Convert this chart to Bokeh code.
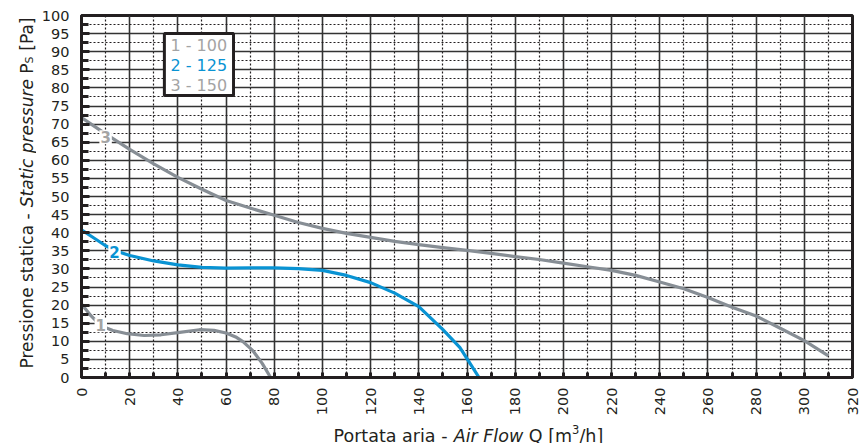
import math
from bokeh.plotting import figure
from bokeh.layouts import row, column
from bokeh.models import Range1d, FixedTicker, Label, BoxAnnotation
from bokeh.core.properties import value
from bokeh.embed import file_html
from bokeh.resources import INLINE

# ---- data ----
q1 = [0, 4, 8, 13, 19, 26, 33, 40, 49, 55, 60, 64, 67, 71, 75, 78.5]
p1 = [20.3, 17, 14.3, 13, 12.1, 11.6, 11.8, 12.4, 13.2, 13, 12.3, 11.2, 9.9, 7.5, 3.9, 0]

q2 = [0, 5, 10, 15, 20, 30, 40, 50, 60, 70, 80, 90, 100, 110, 120, 130, 140, 150, 157, 160, 165]
p2 = [40.8, 38.6, 36.4, 34.8, 33.7, 32.2, 31.1, 30.4, 30.2, 30.3, 30.3, 30.1, 29.6, 28.2, 26.2, 23.3, 19.6, 13.2, 8.3, 5.2, 0]

q3 = [0, 10, 20, 30, 40, 50, 60, 70, 80, 90, 100, 110, 120, 130, 140, 150, 160, 170, 180, 190,
      200, 210, 220, 230, 240, 250, 260, 270, 280, 290, 300, 310]
p3 = [71.8, 67.3, 63, 59, 55.3, 52, 48.9, 46.8, 44.8, 42.8, 41.2, 39.8, 38.7, 37.6, 36.7, 35.9,
      35.1, 34.3, 33.4, 32.6, 31.6, 30.6, 29.6, 28.2, 26.4, 24.5, 22.1, 19.4, 17, 13.6, 10.2, 6]

curve_ids = ["1", "2", "3"]
legend_texts = ["1 - 100", "2 - 125", "3 - 150"]

x_ticks = list(range(0, 321, 20))
x_minor = list(range(10, 320, 20))
y_ticks = list(range(0, 101, 5))
y_minor = [v + 2.5 for v in range(0, 100, 5)]

GRAY = "#878e95"
BLUE = "#0993d3"
LGRAY = "#a4a4a4"
INK = "#231f20"
FONT = "DejaVu Sans"

YW = 36          # width of the y-title strip
PW = 824         # main figure width
PH = 418         # main figure height
XH = 25          # height of the x-title strip
TW = YW + PW     # total width
FT, FB = 15, 377  # frame top / bottom (page px)

p = figure(width=PW, height=PH,
           min_border_left=81 - YW, min_border_right=PW - (81 - YW) - 771,
           min_border_top=FT, min_border_bottom=PH - FB,
           x_range=Range1d(0, 320), y_range=Range1d(0, 100),
           output_backend="svg", toolbar_location=None,
           background_fill_color="white", border_fill_color="white")

xtk = FixedTicker(ticks=x_ticks, minor_ticks=x_minor)
ytk = FixedTicker(ticks=y_ticks, minor_ticks=y_minor)
p.xaxis.ticker = xtk
p.yaxis.ticker = ytk
p.xgrid.ticker = xtk
p.ygrid.ticker = ytk

for g in (p.xgrid, p.ygrid):
    g.grid_line_color = "#333333"
    g.grid_line_width = 1.6
    g.minor_grid_line_color = INK
    g.minor_grid_line_width = 1.2
    g.minor_grid_line_dash = "2 2"

for ax in (p.xaxis, p.yaxis):
    ax.axis_line_color = INK
    ax.axis_line_width = 3
    ax.major_tick_line_color = INK
    ax.minor_tick_line_color = INK
    ax.major_tick_line_width = 3
    ax.minor_tick_line_width = 3
    ax.major_tick_out = 0
    ax.minor_tick_out = 0
    ax.major_label_text_font = FONT
    ax.major_label_text_font_size = "14.5px"
    ax.major_label_text_color = INK

p.yaxis.major_tick_in = 8
p.yaxis.minor_tick_in = 7
p.yaxis.major_label_standoff = 12
p.xaxis.major_tick_in = 5
p.xaxis.minor_tick_in = 5
p.xaxis.major_label_standoff = 10
p.xaxis.major_label_orientation = math.pi / 2

p.outline_line_color = INK
p.outline_line_width = 3
p.outline_line_alpha = 1

# curves
p.line(q1, p1, line_color=GRAY, line_width=3.2)
p.line(q2, p2, line_color=BLUE, line_width=3.2)
p.line(q3, p3, line_color=GRAY, line_width=3.2)

# curve labels
for txt, xx, yy, col in [(curve_ids[0], 8.0, 14.4, LGRAY), (curve_ids[1], 13.7, 34.6, BLUE),
                         (curve_ids[2], 10.0, 66.4, LGRAY)]:
    p.add_layout(Label(x=xx, y=yy, text=txt, text_font=FONT, text_font_size="15px",
                       text_font_style="bold", text_color=col, text_align="center",
                       text_baseline="middle", background_fill_color="white",
                       background_fill_alpha=1, padding=1))

# legend box
p.add_layout(BoxAnnotation(left=34.4, right=63.1, bottom=77.9, top=95, fill_color="white",
                           fill_alpha=1, line_color=INK, line_alpha=1, line_width=3))
for txt, yy, col in [(legend_texts[0], 91.7, LGRAY), (legend_texts[1], 86.2, BLUE),
                     (legend_texts[2], 80.7, LGRAY)]:
    p.add_layout(Label(x=36.9, y=yy, text=txt, text_font=FONT, text_font_size="16px",
                       text_color=col, text_align="left", text_baseline="middle"))


def strip(w, h, top=0, bottom=0):
    # ranges chosen so that data units are page pixels (y measured upward from canvas bottom)
    f = figure(width=w, height=h, title=None, min_border=0, min_border_left=0,
               min_border_right=0, min_border_top=top, min_border_bottom=bottom,
               x_range=Range1d(0, w), y_range=Range1d(bottom, h - top),
               x_axis_location=None, y_axis_location=None, output_backend="svg",
               toolbar_location=None, background_fill_color="white", border_fill_color="white")
    f.grid.visible = False
    f.outline_line_color = None
    return f


def piece(f, text, x, y, size, style="normal", angle=0.0):
    f.text(x=[x], y=[y], text=[text], text_font=value(FONT), text_font_size=size,
           text_font_style=style, text_color=INK, text_align="left",
           text_baseline="alphabetic", angle=angle)


# y-axis title strip: its borders match the main figure's, as the row aligns them
yf = strip(YW, PH, top=FT, bottom=PH - FB)
A = math.pi / 2
piece(yf, "Pressione statica -", 26, PH - 368, "17px", angle=A)
piece(yf, "Static pressure", 26, PH - 206.8, "17px", style="italic", angle=A)
piece(yf, "P", 26, PH - 73.2, "17px", angle=A)
piece(yf, "S", 29, PH - 62.9, "11px", angle=A)
piece(yf, "[Pa]", 26, PH - 50.2, "17px", angle=A)

# x-axis title strip (full width, page x coordinates)
xf = strip(TW, XH)
bl = XH - (435 - PH)
piece(xf, "Portata aria -", 333, bl, "17.5px")
piece(xf, "Air Flow", 453.2, bl, "17.5px", style="italic")
piece(xf, "Q", 528.3, bl, "17.5px")
piece(xf, "[m", 547.7, bl, "17.5px")
piece(xf, "3", 571.6, bl + 6, "11.5px")
piece(xf, "/h]", 578.9, bl, "17.5px")

layout = column(row(yf, p, spacing=0), xf, spacing=0)

open("out.html", "w").write(file_html(layout, INLINE))
